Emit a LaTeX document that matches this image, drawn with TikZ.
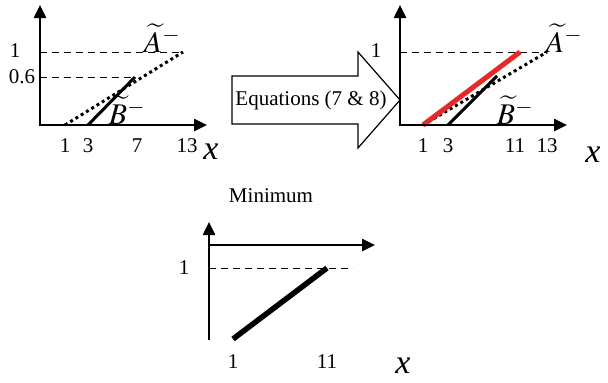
\documentclass[tikz,border=0pt]{standalone}
\usepackage{mathptmx}
\usepackage{fontspec}
\setmainfont{Liberation Serif}
\usetikzlibrary{arrows.meta}
\begin{document}
\begin{tikzpicture}[x=1pt,y=-1pt,
  axis/.style={line width=2.5pt,-{Triangle[length=13pt,width=12pt]}},
  guide/.style={line width=0.9pt,dash pattern=on 7pt off 5pt},
  dotline/.style={line width=3pt,dash pattern=on 3pt off 3.2pt},
  bline/.style={line width=3pt},
  redline/.style={line width=5pt,draw={rgb,255:red,230;green,40;blue,40}},
  thickline/.style={line width=5.5pt},
  lbl/.style={font=\fontsize{21}{21}\selectfont,inner sep=0pt},
  xl/.style={font=\fontsize{34}{34}\selectfont\itshape,inner sep=0pt},
  setl/.style={font=\fontsize{30}{30}\selectfont,inner sep=0pt}]
\useasboundingbox (0,0) rectangle (608,383);
% ---------- panel 1 ----------
\coordinate (o1) at (40,125);
\coordinate (y1) at (40,5);
\coordinate (x1) at (207,125);
\coordinate (d1a) at (183,52);
\coordinate (d1b) at (135,77);
\coordinate (a1s) at (65,125);
\coordinate (b1s) at (88,125);
\draw[guide] (o1 |- d1a) -- (d1a);
\draw[guide] (o1 |- d1b) -- (d1b);
\draw[dotline] (a1s) -- (d1a);
\draw[bline] (b1s) -- (d1b);
\draw[axis] ([yshift=1.25pt]o1) -- (y1);
\draw[axis] ([xshift=-1.25pt]o1) -- (x1);
\node[lbl] (p1one) at (15,51) {1};
\node[lbl] (p1six) at (22,77) {0.6};
\node[lbl] (p1t1) at (65,146) {1};
\node[lbl] (p1t3) at (88,146) {3};
\node[lbl] (p1t7) at (137,146) {7};
\node[lbl] (p1t13) at (187,146) {13};
\node[xl] (p1x) at (211,152) {x};
\node[setl] (p1A) at (162,38) {$\widetilde{A}^{-}$};
\node[setl] (p1B) at (127,110) {$\widetilde{B}^{-}$};
% ---------- big arrow ----------
\draw[line width=1.2pt,line join=miter]
  (232,76) -- (358,76) -- (358,52) -- (400,100) -- (358,148) -- (358,124) -- (232,124) -- cycle;
\node[lbl] (eq) at (311,100) {Equations (7 \& 8)};
% ---------- panel 2 ----------
\coordinate (o2) at (400,125);
\coordinate (y2) at (400,5);
\coordinate (x2) at (567,125);
\coordinate (d2a) at (547,52);
\coordinate (r2e) at (520,52);
\coordinate (b2e) at (497,76);
\coordinate (a2s) at (423,125);
\coordinate (b2s) at (448,125);
\draw[guide] (o2 |- d2a) -- (d2a);
\draw[dotline] (a2s) -- (d2a);
\draw[bline] (b2s) -- (b2e);
\draw[redline,line cap=butt] (a2s) -- (r2e);
\draw[axis] ([yshift=1.25pt]o2) -- (y2);
\draw[axis] ([xshift=-1.25pt]o2) -- (x2);
\node[lbl] (p2one) at (376,51) {1};
\node[lbl] (p2t1) at (423,146) {1};
\node[lbl] (p2t3) at (448,146) {3};
\node[lbl] (p2t11) at (515,146) {11};
\node[lbl] (p2t13) at (547,146) {13};
\node[xl] (p2x) at (593,155) {x};
\node[setl] (p2A) at (564,38) {$\widetilde{A}^{-}$};
\node[setl] (p2B) at (515,110) {$\widetilde{B}^{-}$};
% ---------- panel 3 ----------
\node[lbl] (mini) at (271,196) {Minimum};
\coordinate (o3b) at (209,340);
\coordinate (y3) at (209,222);
\coordinate (o3) at (209,245);
\coordinate (x3) at (375,245);
\coordinate (d3) at (353,268);
\coordinate (m3s) at (233,339);
\coordinate (m3e) at (327,268);
\draw[guide] (o3 |- d3) -- (d3);
\draw[thickline] (m3s) -- (m3e);
\draw[axis] (o3b) -- (y3);
\draw[axis] ([xshift=-1.25pt]o3) -- (x3);
\node[lbl] (p3one) at (184,268) {1};
\node[lbl] (p3t1) at (233,362) {1};
\node[lbl] (p3t11) at (327,362) {11};
\node[xl] (p3x) at (403,366) {x};
\end{tikzpicture}
\end{document}
